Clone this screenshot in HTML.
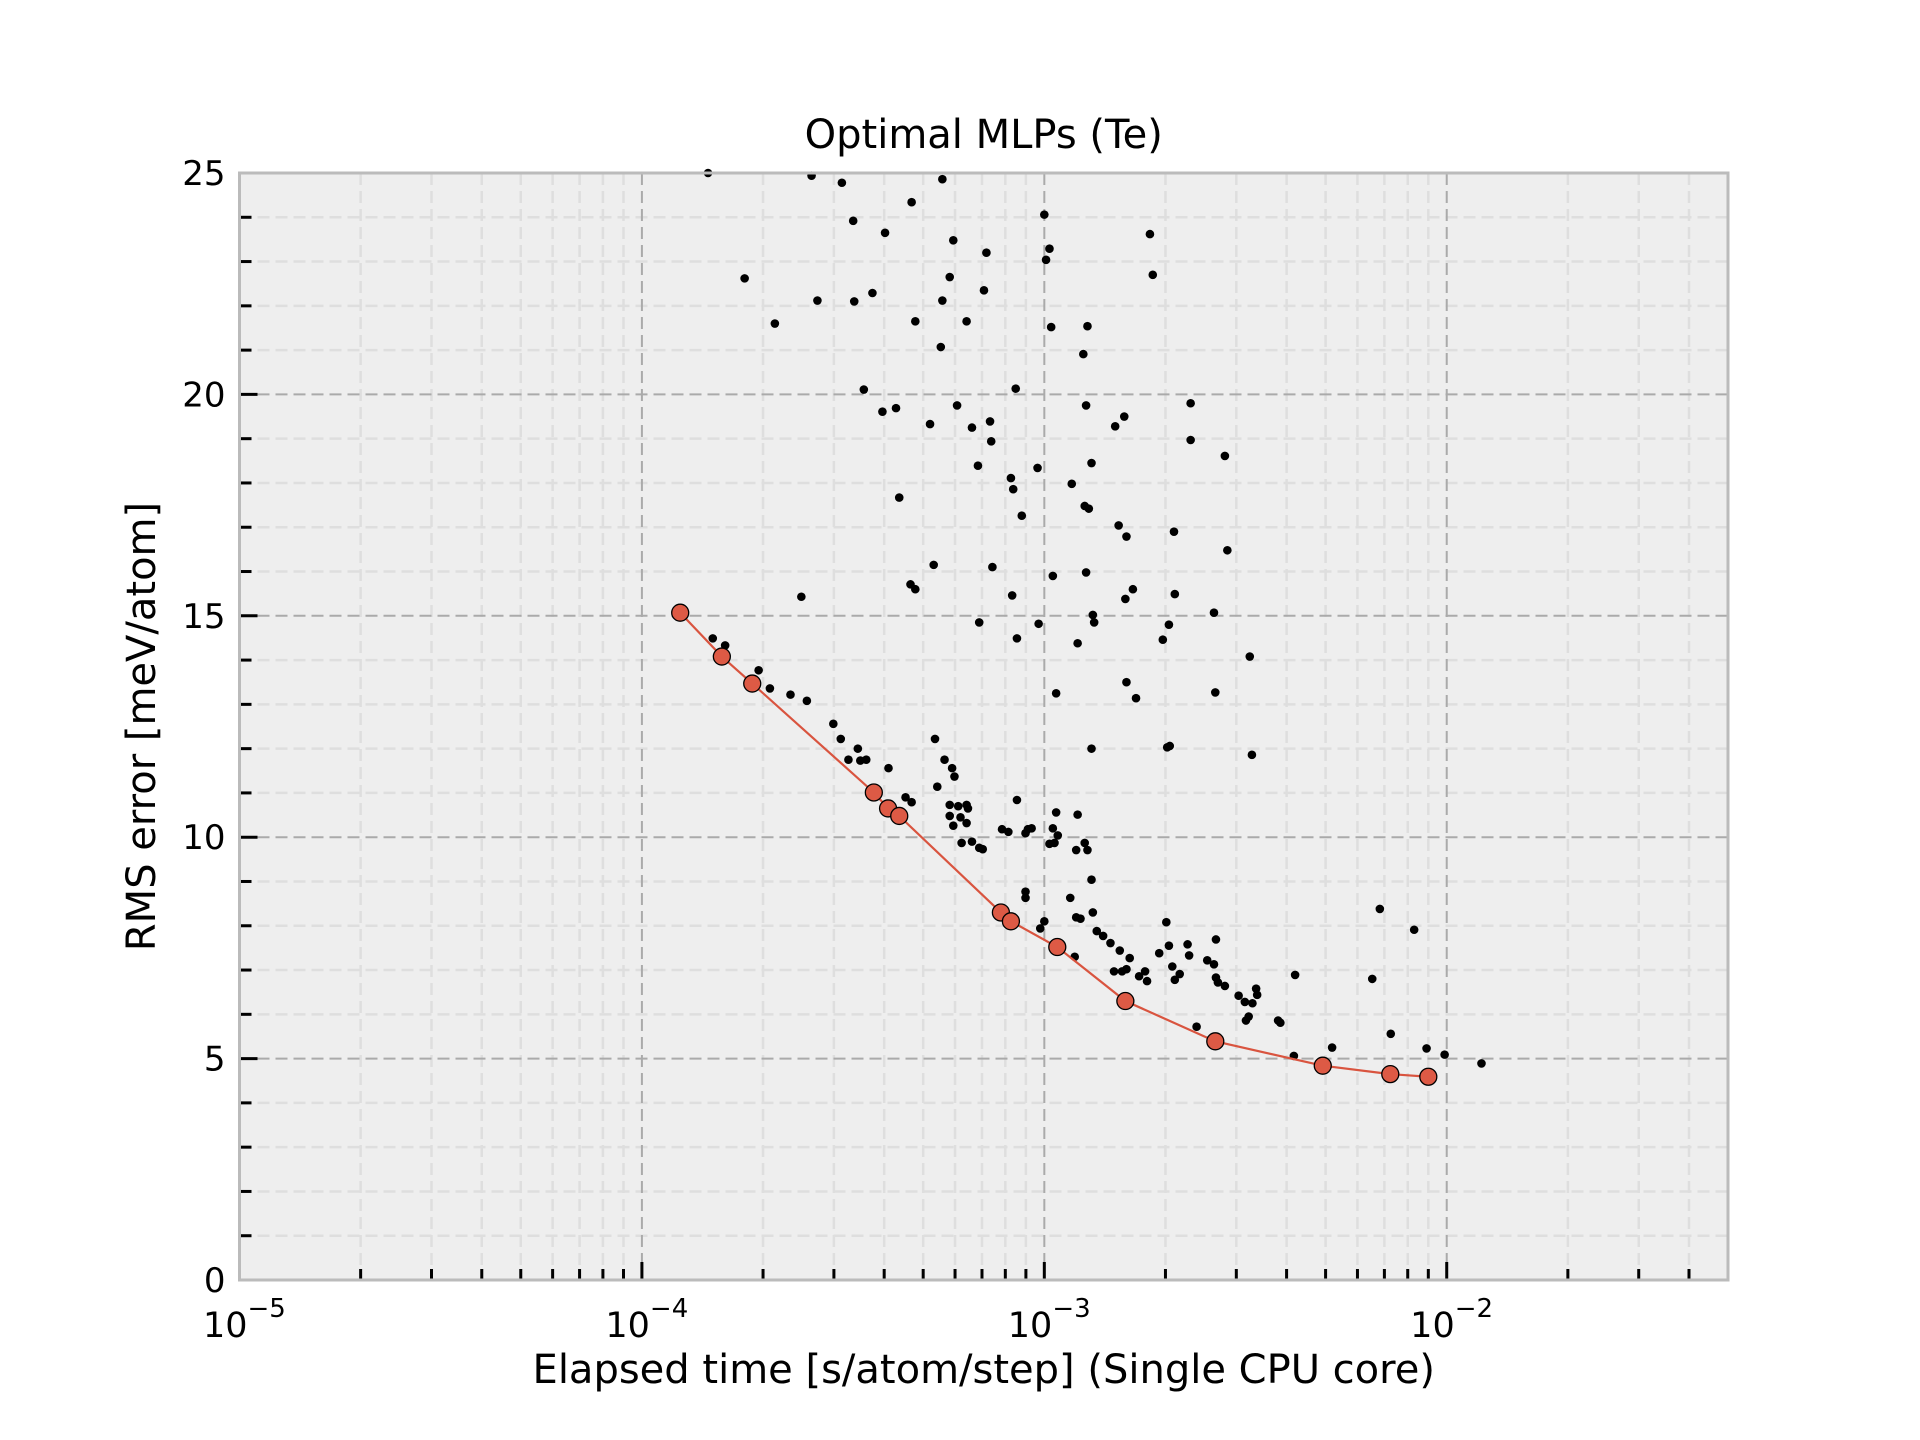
<!DOCTYPE html>
<html><head><meta charset="utf-8"><style>
html,body{margin:0;padding:0;background:#fff}
svg{display:block}
text{font-family:"DejaVu Sans","Liberation Sans",sans-serif;fill:#000}
</style></head><body>
<svg id="chart" width="1920" height="1440" viewBox="0 0 1920 1440" xmlns="http://www.w3.org/2000/svg"></svg>
<script>
// Pareto-front (optimal) models
const paretoTime = [1.245e-4,1.58e-4,1.88e-4,3.77e-4,4.09e-4,4.36e-4,7.8e-4,8.26e-4,1.077e-3,1.59e-3,2.66e-3,4.92e-3,7.24e-3,9.0e-3];
const paretoErr  = [15.07,14.08,13.47,11.01,10.65,10.48,8.30,8.10,7.52,6.30,5.39,4.84,4.65,4.59];
// All models
const allTime = [1.46e-4,2.64e-4,3.14e-4,5.58e-4,1.80e-4,2.14e-4,2.73e-4,3.35e-4,3.37e-4,3.74e-4,4.02e-4,4.68e-4,4.78e-4,5.58e-4,5.82e-4,5.94e-4,5.53e-4,6.41e-4,7.18e-4,7.08e-4,1.0e-3,1.03e-3,1.01e-3,1.04e-3,1.25e-3,1.28e-3,1.83e-3,1.86e-3,
3.56e-4,3.96e-4,4.28e-4,5.20e-4,6.07e-4,6.61e-4,7.33e-4,7.38e-4,6.84e-4,8.49e-4,9.62e-4,8.26e-4,8.37e-4,8.79e-4,1.17e-3,1.31e-3,1.27e-3,1.26e-3,1.29e-3,1.50e-3,1.58e-3,2.31e-3,2.31e-3,2.81e-3,2.10e-3,1.53e-3,1.60e-3,
4.36e-4,5.31e-4,4.65e-4,4.78e-4,2.49e-4,7.43e-4,6.89e-4,8.55e-4,8.32e-4,9.68e-4,1.05e-3,1.21e-3,1.27e-3,1.32e-3,1.33e-3,1.59e-3,1.66e-3,2.11e-3,2.04e-3,1.97e-3,2.85e-3,2.64e-3,1.07e-3,1.31e-3,1.60e-3,1.69e-3,2.66e-3,3.24e-3,3.28e-3,2.02e-3,2.05e-3,
1.50e-4,1.61e-4,1.95e-4,2.08e-4,2.34e-4,2.57e-4,2.99e-4,3.12e-4,3.26e-4,3.44e-4,3.49e-4,3.61e-4,4.10e-4,4.52e-4,4.68e-4,5.35e-4,5.65e-4,5.90e-4,5.98e-4,5.42e-4,5.82e-4,6.11e-4,6.41e-4,6.46e-4,5.82e-4,6.19e-4,5.94e-4,6.41e-4,6.23e-4,6.61e-4,6.89e-4,7.03e-4,
8.55e-4,7.85e-4,8.14e-4,8.98e-4,9.10e-4,9.30e-4,1.07e-3,1.05e-3,1.06e-3,1.03e-3,1.08e-3,1.21e-3,1.26e-3,1.28e-3,1.20e-3,8.98e-4,8.98e-4,1.0e-3,9.77e-4,1.16e-3,1.20e-3,1.23e-3,1.31e-3,1.32e-3,1.35e-3,1.40e-3,1.46e-3,1.19e-3,
1.49e-3,1.54e-3,1.63e-3,1.60e-3,1.72e-3,1.78e-3,1.93e-3,2.01e-3,2.04e-3,2.08e-3,2.11e-3,2.17e-3,2.27e-3,2.29e-3,2.54e-3,2.67e-3,2.64e-3,2.67e-3,2.70e-3,2.81e-3,3.04e-3,3.15e-3,3.17e-3,3.22e-3,3.36e-3,3.38e-3,3.29e-3,3.81e-3,3.86e-3,
4.20e-3,4.17e-3,5.19e-3,6.53e-3,6.82e-3,7.26e-3,8.30e-3,8.91e-3,9.88e-3,1.22e-2,2.39e-3,1.80e-3,1.56e-3];
const allErr = [25.0,24.94,24.78,24.86,22.62,21.60,22.12,23.92,22.10,22.29,23.65,24.34,21.65,22.12,22.65,23.48,21.07,21.65,23.20,22.35,24.06,23.29,23.04,21.52,20.91,21.54,23.62,22.70,
20.11,19.61,19.69,19.33,19.75,19.25,19.39,18.94,18.39,20.13,18.34,18.11,17.86,17.26,17.98,18.45,19.75,17.48,17.42,19.28,19.50,19.80,18.97,18.61,16.90,17.04,16.79,
17.67,16.15,15.71,15.60,15.43,16.10,14.85,14.49,15.46,14.82,15.90,14.38,15.98,15.02,14.85,15.38,15.60,15.49,14.80,14.46,16.48,15.07,13.25,12.0,13.50,13.14,13.27,14.08,11.86,12.03,12.06,
14.49,14.33,13.77,13.36,13.22,13.08,12.56,12.22,11.75,12.0,11.73,11.75,11.56,10.90,10.79,12.22,11.75,11.56,11.37,11.14,10.73,10.70,10.73,10.65,10.48,10.45,10.26,10.32,9.87,9.90,9.76,9.73,
10.84,10.18,10.12,10.09,10.18,10.20,10.56,10.20,9.87,9.85,10.04,10.51,9.87,9.71,9.71,8.77,8.63,8.10,7.94,8.63,8.19,8.16,9.04,8.30,7.88,7.77,7.61,7.30,
6.97,7.44,7.27,7.02,6.86,6.97,7.38,8.08,7.55,7.08,6.78,6.91,7.58,7.33,7.22,7.69,7.13,6.83,6.72,6.64,6.42,6.28,5.86,5.95,6.58,6.44,6.25,5.86,5.81,
6.89,5.06,5.25,6.80,8.38,5.56,7.91,5.23,5.09,4.89,5.72,6.75,6.97];
const xDecades = [-5,-4,-3,-2];
const xTickLabels = ["10","10","10","10"];
const xTickExps = ["\u22125","\u22124","\u22123","\u22122"];
const yTicks = [0,5,10,15,20,25];

const NS="http://www.w3.org/2000/svg";
const svg=document.getElementById('chart');
const L=239.5,R=1728,T=173,B=1280;
const xMinLog=-5,xMaxLog=Math.log10(0.05),yMin=0,yMax=25;
const xs=v=>L+(Math.log10(v)-xMinLog)/(xMaxLog-xMinLog)*(R-L);
const ys=v=>B-(v-yMin)/(yMax-yMin)*(B-T);
function mk(tag,attrs,parent){const e=document.createElementNS(NS,tag);for(const k in attrs)e.setAttribute(k,attrs[k]);(parent||svg).appendChild(e);return e;}

const bg=mk('rect',{x:L,y:T,width:R-L,height:B-T,fill:'#eeeeee'});



const grid=mk('g',{});


for(let v=1;v<25;v++){ if(v%5===0)continue; const y=ys(v);
  mk('line',{x1:L,x2:R,y1:y,y2:y,stroke:'#dedede','stroke-width':2.5,'stroke-dasharray':'12,6'},grid);}
for(let d=-5;d<=-2;d++){for(let m=2;m<=9;m++){const v=m*Math.pow(10,d); if(v>0.05)break; const x=xs(v);
  mk('line',{x1:x,x2:x,y1:T,y2:B,stroke:'#dedede','stroke-width':2.5,'stroke-dasharray':'12,6'},grid);}}
yTicks.forEach(v=>{if(v===0||v===25)return;const y=ys(v);
  mk('line',{x1:L,x2:R,y1:y,y2:y,stroke:'#aaaaaa','stroke-width':2,'stroke-dasharray':'12,6'},grid);});
xDecades.forEach(d=>{if(d===-5)return;const x=xs(Math.pow(10,d));
  mk('line',{x1:x,x2:x,y1:T,y2:B,stroke:'#aaaaaa','stroke-width':2,'stroke-dasharray':'12,6'},grid);});

const ticks=mk('g',{stroke:'#000','stroke-width':3});


for(let v=0;v<=25;v++){const y=ys(v);const len=(v%5===0)?18:12;
  mk('line',{x1:L,x2:L+len,y1:y,y2:y},ticks);}
for(let d=-5;d<=-2;d++){for(let m=1;m<=9;m++){const v=m*Math.pow(10,d); if(v>0.0501)break; const x=xs(v);const len=m===1?18:11;
  mk('line',{x1:x,x2:x,y1:B,y2:B-len},ticks);}}

const sc=mk('g',{});


for(let i=0;i<allTime.length;i++){
  const c=mk('circle',{cx:xs(allTime[i]),cy:ys(allErr[i]),r:4.3,fill:'#000'},sc);
  
  
}
const pl=mk('polyline',{points:paretoTime.map((t,i)=>xs(t)+','+ys(paretoErr[i])).join(' '),fill:'none',stroke:'#d9543f','stroke-width':2.2});


for(let i=0;i<paretoTime.length;i++){
  const c=mk('circle',{cx:xs(paretoTime[i]),cy:ys(paretoErr[i]),r:8.5,fill:'#dd5a45',stroke:'#000','stroke-width':1.3});
  
  
}

const sp=mk('rect',{x:L,y:T,width:R-L,height:B-T,fill:'none',stroke:'#bbbbbb','stroke-width':3});



yTicks.forEach(v=>{const t=mk('text',{x:L-14,y:ys(v)+12,'font-size':34,'text-anchor':'end'});t.textContent=v;
  
  });
xDecades.forEach((d,i)=>{const x=xs(Math.pow(10,d));
  const t=mk('text',{x:x+8,y:B+57,'font-size':35,'text-anchor':'end'});t.textContent=xTickLabels[i];
  
  
  const e=mk('text',{x:x+8,y:B+37,'font-size':26,'text-anchor':'start'});e.textContent=xTickExps[i];
  
  });

const title=mk('text',{x:(L+R)/2,y:148,'font-size':40,'text-anchor':'middle'});title.textContent='Optimal MLPs (Te)';


const xl=mk('text',{x:(L+R)/2,y:1383,'font-size':40,'text-anchor':'middle'});xl.textContent='Elapsed time [s/atom/step] (Single CPU core)';


const yl=mk('text',{x:0,y:0,'font-size':40,'text-anchor':'middle',transform:'translate(155,'+((T+B)/2)+') rotate(-90)'});yl.textContent='RMS error [meV/atom]';


</script>
</body></html>
